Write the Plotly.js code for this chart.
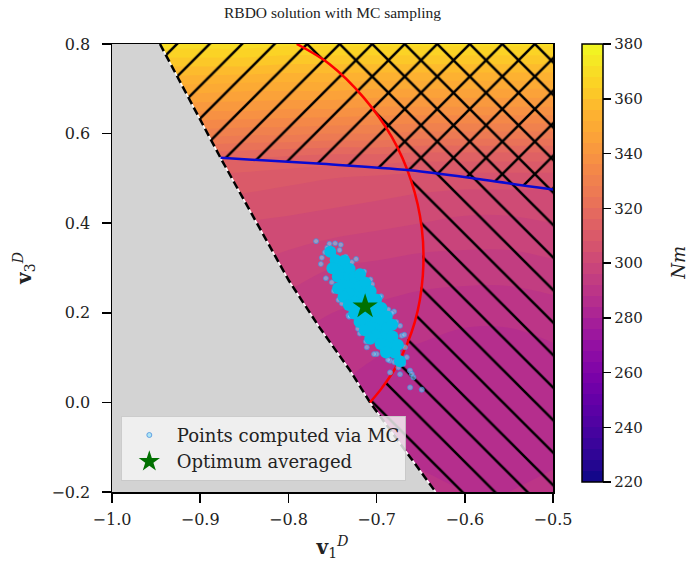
<!DOCTYPE html>
<html>
<head>
<meta charset="utf-8">
<script src="https://cdn.plot.ly/plotly-3.0.1.min.js"></script>
<style>html,body{margin:0;padding:0;background:#fff;}#chart{width:697px;height:565px;}</style>
</head>
<body>
<div id="chart"></div>
<script>
// ---- data ----
const gridX = [-1.0,-0.95,-0.9,-0.85,-0.8,-0.75,-0.7,-0.65,-0.6,-0.55,-0.5];
const gridY = [-0.2,-0.1,0.0,0.1,0.2,0.3,0.4,0.45,0.5,0.55,0.6,0.65,0.7,0.75,0.8];
const torque = [
  [302,300,297,295,293,291,290,289,288,288,289],
  [300,298,295,293,291,289,288,287,286,286,287],
  [299,297,294,292,290,288,287,286,285,285,286],
  [300,298,295,293,291,289,288,287,286,286,287],
  [303,301,298,296,294,292,291,290,289,289,290],
  [307,305,302,300,298,296,295,294,294,294,295],
  [310,308,306,304,303,302,301,300,299,299,300],
  [312,310,308,307,306,305,304,303,302,302,302],
  [314,313,311,310,309,308,307,306,306,306,306],
  [320,319,318,317,316,315,315,314,314,314,314],
  [331,331,330,329,329,328,328,327,327,327,327],
  [341,341,340,340,339,339,338,338,338,338,338],
  [350,350,350,349,349,349,348,348,348,348,348],
  [360,360,360,360,359,359,359,359,359,359,359],
  [370,370,370,370,369,369,369,369,369,369,369]
];

// infeasible boundary (dashed line), top to bottom
const boundX = [-0.9456,-0.877,-0.840,-0.7995,-0.765,-0.730,-0.7075,-0.670,-0.633];
const boundY = [0.8,0.546,0.415,0.272,0.168,0.071,0.0,-0.100,-0.2];

// red constraint arc, top to bottom
const arcX = [-0.7906,-0.7536,-0.7146,-0.6828,-0.6607,-0.6488,-0.6476,-0.6567,-0.6767,-0.6939,-0.7075];
const arcY = [0.8,0.7555,0.6804,0.5926,0.4941,0.3895,0.2831,0.1794,0.0836,0.0324,0.0];

// blue constraint line
const blueX = [-0.877,-0.767,-0.662,-0.579,-0.5];
const blueY = [0.546,0.533,0.518,0.497,0.475];

// MC sample points (dense core)
const mcCoreX = [
 -0.7525,-0.7464,-0.7403,-0.7342,-0.7282,-0.7221,-0.7160,-0.7100,-0.7039,-0.6978,-0.6918,-0.6857,-0.6796,-0.6735,
 -0.7367,-0.7306,-0.7245,-0.7184,-0.7124,-0.7063,-0.7002,-0.6942,-0.6881,-0.6820,-0.6759,
 -0.7501,-0.7440,-0.7379,-0.7318,-0.7258,-0.7197,-0.7136,-0.7076,-0.7015,-0.6954,-0.6893,
 -0.7188,-0.7127,-0.7067,-0.7006,-0.6945,-0.6885,-0.6824,
 -0.7436,-0.7375,-0.7315,-0.7254,-0.7193,-0.7133,-0.7072
];
const mcCoreY = [
 0.3361,0.3173,0.2986,0.2798,0.2610,0.2422,0.2234,0.2046,0.1858,0.1670,0.1482,0.1294,0.1107,0.0919,
 0.3164,0.2976,0.2788,0.2600,0.2412,0.2224,0.2036,0.1848,0.1660,0.1472,0.1284,
 0.2996,0.2808,0.2620,0.2432,0.2244,0.2056,0.1868,0.1680,0.1492,0.1304,0.1116,
 0.2860,0.2672,0.2484,0.2296,0.2108,0.1920,0.1732,
 0.2548,0.2360,0.2172,0.1984,0.1796,0.1608,0.1420
];
// MC sample points (sparse fringe)
const mcFringeX = [
 -0.7686,-0.7535,-0.7470,-0.7406,-0.7621,-0.7584,-0.7632,-0.7508,-0.7451,-0.7281,-0.7168,-0.7074,
 -0.7319,-0.7224,-0.6802,-0.6847,-0.6734,-0.6715,-0.6677,-0.7111,-0.6998,-0.6847,-0.6697,-0.6621,
 -0.6583,-0.6734,-0.6658,-0.6620,-0.6488,-0.6601,-0.6847,-0.6753,
 -0.7070,-0.6949,-0.6828,-0.7432,-0.7311,-0.7190,
 -0.7560,-0.7490,-0.7420,-0.7350,-0.6930,-0.6870,-0.6800,-0.6760,
 -0.7232,-0.7141,-0.7050,-0.6959,-0.6868,-0.6777,-0.6686,
 -0.7575,-0.7484,-0.7393,-0.7302,-0.7211,-0.7120,-0.7029
];
const mcFringeY = [
 0.3598,0.354,0.355,0.352,0.323,0.335,0.309,0.268,0.249,0.313,0.276,0.257,
 0.194,0.183,0.203,0.168,0.171,0.149,0.123,0.123,0.108,0.093,0.086,0.071,
 0.056,0.063,0.101,0.0335,0.0284,0.0635,0.067,0.078,
 0.2744,0.2368,0.1992,0.2288,0.1912,0.1536,
 0.3450,0.3300,0.3400,0.3250,0.1150,0.0950,0.0900,0.1050,
 0.3202,0.2920,0.2638,0.2356,0.2074,0.1792,0.1510,
 0.2770,0.2488,0.2206,0.1924,0.1642,0.1360,0.1078
];

// averaged optimum
const optX = [-0.713];
const optY = [0.214];

const xTicks = [-1.0,-0.9,-0.8,-0.7,-0.6,-0.5];
const yTicks = [-0.2,0.0,0.2,0.4,0.6,0.8];
const cbTicks = [220,240,260,280,300,320,340,360,380];

// ---- build ----
const plasma = [
 [0.0,'#0d0887'],[0.05,'#2a0593'],[0.1,'#41049d'],[0.15,'#5601a4'],[0.2,'#6a00a8'],
 [0.25,'#7e03a8'],[0.3,'#8f0da4'],[0.35,'#a01a9c'],[0.4,'#b12a90'],[0.45,'#bf3984'],
 [0.5,'#cc4778'],[0.55,'#d8576b'],[0.6,'#e16462'],[0.65,'#eb7655'],[0.7,'#f2844b'],
 [0.75,'#f89540'],[0.8,'#fca636'],[0.85,'#fdb42f'],[0.9,'#fcce25'],[0.95,'#f7e225'],[1.0,'#f0f921']
];
const FONT = 'DejaVu Serif';

// gray infeasible polygon
const grayX = [-1.0].concat(boundX.slice().reverse(), [-1.0]);
const grayY = [-0.2].concat(boundY.slice().reverse(), [0.8]);
// "/" hatch region: above blue line, right of boundary
const h1X = [boundX[0], boundX[1]].concat(blueX.slice(1), [-0.5]);
const h1Y = [boundY[0], boundY[1]].concat(blueY.slice(1), [0.8]);
// "\" hatch region: right of the red arc
const h2X = arcX.concat(boundX.slice(7), [-0.5,-0.5]);
const h2Y = arcY.concat(boundY.slice(7), [-0.2,0.8]);

const traces = [
 {type:'contour', x:gridX, y:gridY, z:torque, colorscale:plasma, zmin:220, zmax:380, zauto:false,
  autocontour:false, contours:{start:220,end:380,size:4,coloring:'fill',showlines:false},
  line:{width:0, smoothing:1}, hoverinfo:'skip', showlegend:false,
  colorbar:{x:1.066, xanchor:'left', xpad:0, ypad:0, y:1, yanchor:'top', len:438, lenmode:'pixels', thickness:21,
    outlinewidth:1.5, outlinecolor:'black', ticks:'outside', ticklen:8, tickwidth:1.5, tickcolor:'black',
    tickvals:cbTicks, ticktext:cbTicks.map(String), tickfont:{family:FONT,size:15,color:'#222'}}},
 {type:'scatter', x:grayX, y:grayY, mode:'lines', fill:'toself', fillcolor:'#d3d3d3', line:{width:0}, showlegend:false, hoverinfo:'skip'},
 {type:'scatter', x:h1X, y:h1Y, mode:'lines', fill:'toself', fillcolor:'rgba(0,0,0,0)', line:{width:0},
  fillpattern:{shape:'/', size:23, solidity:0.11, fgcolor:'black', bgcolor:'rgba(0,0,0,0)', fillmode:'replace'},
  showlegend:false, hoverinfo:'skip'},
 {type:'scatter', x:h2X, y:h2Y, mode:'lines', fill:'toself', fillcolor:'rgba(0,0,0,0)', line:{width:0},
  fillpattern:{shape:'\\', size:23, solidity:0.11, fgcolor:'black', bgcolor:'rgba(0,0,0,0)', fillmode:'replace'},
  showlegend:false, hoverinfo:'skip'},
 {type:'scatter', x:boundX, y:boundY, mode:'lines', line:{color:'white', width:1.5}, showlegend:false, hoverinfo:'skip'},
 {type:'scatter', x:boundX, y:boundY, mode:'lines', line:{color:'black', width:2.5, dash:'8px,4px'}, showlegend:false, hoverinfo:'skip'},
 {type:'scatter', x:arcX, y:arcY, mode:'lines', line:{color:'#ff0000', width:2.5, shape:'spline', smoothing:1}, showlegend:false, hoverinfo:'skip'},
 {type:'scatter', x:blueX, y:blueY, mode:'lines', line:{color:'#0a0ad2', width:2.5, shape:'spline', smoothing:1}, showlegend:false, hoverinfo:'skip'},
 {type:'scatter', x:mcFringeX, y:mcFringeY, mode:'markers', name:'Points computed via MC',
  marker:{size:5, color:'rgba(120,220,250,0.55)', line:{color:'rgba(70,140,220,0.75)', width:1}}},
 {type:'scatter', x:mcCoreX, y:mcCoreY, mode:'markers', showlegend:false, hoverinfo:'skip',
  marker:{size:12, color:'#00bde6', line:{width:0}}},
 {type:'scatter', x:optX, y:optY, mode:'markers', name:'Optimum averaged',
  marker:{symbol:'star', size:19, color:'#007000', line:{width:0}}}
];

const axisCommon = {showgrid:false, zeroline:false, showline:true, linecolor:'black', linewidth:1.5, mirror:true,
  ticks:'outside', ticklen:9, tickwidth:1.5, tickcolor:'black', tickfont:{family:FONT, size:16, color:'#222'}};

const layout = {
  width:697, height:565,
  margin:{l:112, r:144, t:44, b:73},
  paper_bgcolor:'white', plot_bgcolor:'white',
  font:{family:FONT, color:'#222'},
  title:{text:'RBDO solution with MC sampling', font:{family:'Liberation Serif', size:15.5, color:'#222'},
    x:0.5, xref:'paper', xanchor:'center', y:0.977, yanchor:'middle'},
  xaxis:Object.assign({}, axisCommon, {range:[-1.0,-0.5], tickvals:xTicks, tickformat:'.1f', ticklabelstandoff:3,
    title:{text:'<b>v</b><sub>1</sub><sup><i>D</i></sup>', font:{family:FONT, size:20, color:'#222'}, standoff:12}}),
  yaxis:Object.assign({}, axisCommon, {range:[-0.2,0.8], tickvals:yTicks, tickformat:'.1f', ticklabelstandoff:8,
    title:{text:'<b>v</b><sub>3</sub><sup><i>D</i></sup>', font:{family:FONT, size:20, color:'#222'}, standoff:14}}),
  legend:{x:0.02, y:0.025, xanchor:'left', yanchor:'bottom', bgcolor:'rgba(245,245,245,0.82)',
    bordercolor:'rgba(200,200,200,0.9)', borderwidth:1, font:{family:FONT, size:18, color:'#222'},
    tracegroupgap:0, itemsizing:'trace', itemwidth:45},
  annotations:[{text:'<i>Nm</i>', xref:'paper', yref:'paper', x:1.283, y:0.511, xanchor:'center', yanchor:'middle',
    textangle:-90, showarrow:false, font:{family:FONT, size:18, color:'#222'}}]
};

Plotly.newPlot('chart', traces, layout, {displayModeBar:false, staticPlot:true});
</script>
</body>
</html>
